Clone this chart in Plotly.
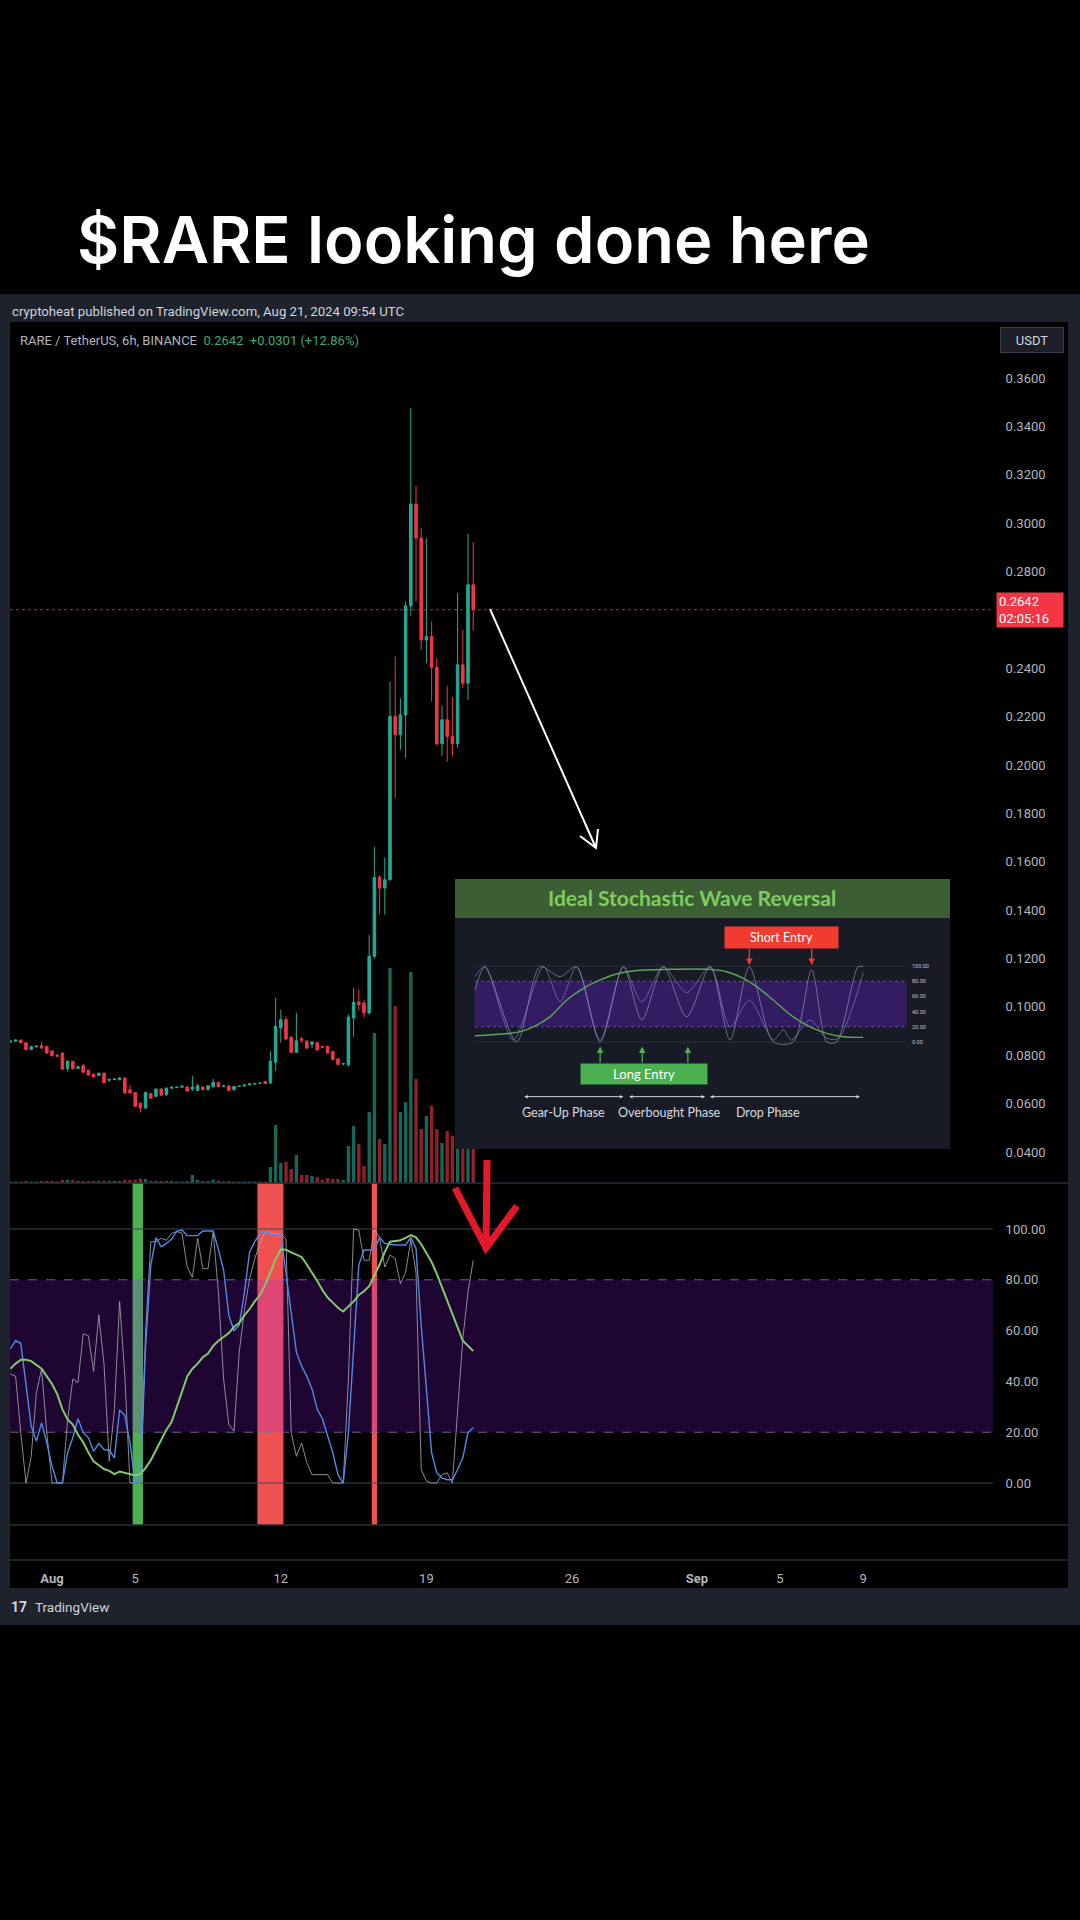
import pandas as pd
import plotly.graph_objects as go

W, H = 1080, 1920

# ---------------- data (6h candles, RARE/USDT) ----------------
BAR_START = "2024-07-30 00:00"
BAR_HOURS = 6

OPEN = [0.0855, 0.0858, 0.0863, 0.0852, 0.0824, 0.0835, 0.0840, 0.0836, 0.0818, 0.0800,
        0.0809, 0.0744, 0.0775, 0.0746, 0.0757, 0.0738, 0.0722, 0.0716, 0.0726, 0.0697,
        0.0700, 0.0699, 0.0706, 0.0657, 0.0646, 0.0602, 0.0582, 0.0641, 0.0630, 0.0660,
        0.0637, 0.0664, 0.0666, 0.0668, 0.0669, 0.0660, 0.0655, 0.0669, 0.0658, 0.0670,
        0.0688, 0.0671, 0.0673, 0.0657, 0.0671, 0.0673, 0.0678, 0.0681, 0.0683, 0.0691,
        0.0685, 0.0771, 0.0913, 0.0947, 0.0874, 0.0812, 0.0868, 0.0858, 0.0845, 0.0852,
        0.0836, 0.0837, 0.0816, 0.0785, 0.0764, 0.0761, 0.0954, 0.1020, 0.1016, 0.0975,
        0.1209, 0.1535, 0.1491, 0.1526, 0.2201, 0.2125, 0.2207, 0.2658, 0.3079, 0.2938,
        0.2517, 0.2531, 0.2404, 0.2088, 0.2187, 0.2118, 0.2088, 0.2414, 0.2338, 0.2745]
HIGH = [0.0862, 0.0866, 0.0864, 0.0854, 0.0840, 0.0840, 0.0857, 0.0838, 0.0822, 0.0806,
        0.0812, 0.0780, 0.0778, 0.0758, 0.0764, 0.0740, 0.0724, 0.0728, 0.0728, 0.0704,
        0.0705, 0.0710, 0.0708, 0.0678, 0.0648, 0.0605, 0.0650, 0.0645, 0.0663, 0.0664,
        0.0667, 0.0670, 0.0672, 0.0675, 0.0672, 0.0715, 0.0682, 0.0672, 0.0677, 0.0702,
        0.0690, 0.0675, 0.0675, 0.0673, 0.0674, 0.0678, 0.0683, 0.0685, 0.0687, 0.0693,
        0.0818, 0.1037, 0.0988, 0.0961, 0.0880, 0.0975, 0.0876, 0.0864, 0.0858, 0.0855,
        0.0840, 0.0840, 0.0818, 0.0787, 0.0768, 0.0968, 0.1078, 0.1072, 0.1030, 0.1298,
        0.1663, 0.1545, 0.1618, 0.2345, 0.2448, 0.2276, 0.2676, 0.3475, 0.3154, 0.2979,
        0.2938, 0.2593, 0.2441, 0.2245, 0.2327, 0.2281, 0.2711, 0.2559, 0.2955, 0.2921]
LOW = [0.0852, 0.0856, 0.0850, 0.0820, 0.0820, 0.0832, 0.0826, 0.0806, 0.0795, 0.0793,
       0.0738, 0.0733, 0.0741, 0.0742, 0.0728, 0.0716, 0.0708, 0.0714, 0.0684, 0.0690,
       0.0697, 0.0696, 0.0641, 0.0642, 0.0586, 0.0564, 0.0578, 0.0620, 0.0628, 0.0632,
       0.0632, 0.0662, 0.0664, 0.0666, 0.0650, 0.0652, 0.0652, 0.0655, 0.0656, 0.0668,
       0.0668, 0.0668, 0.0652, 0.0655, 0.0669, 0.0671, 0.0676, 0.0679, 0.0681, 0.0681,
       0.0683, 0.0734, 0.0852, 0.0862, 0.0808, 0.0808, 0.0852, 0.0826, 0.0830, 0.0820,
       0.0830, 0.0806, 0.0780, 0.0760, 0.0758, 0.0752, 0.0875, 0.0985, 0.0955, 0.0968,
       0.1200, 0.1381, 0.1381, 0.1520, 0.1864, 0.2063, 0.2029, 0.2617, 0.2676, 0.2476,
       0.2421, 0.2262, 0.2080, 0.2038, 0.2014, 0.2035, 0.2070, 0.2318, 0.2269, 0.2556]
CLOSE = [0.0858, 0.0863, 0.0852, 0.0823, 0.0835, 0.0838, 0.0830, 0.0809, 0.0798, 0.0797,
         0.0743, 0.0775, 0.0744, 0.0752, 0.0730, 0.0718, 0.0710, 0.0726, 0.0686, 0.0700,
         0.0702, 0.0706, 0.0644, 0.0644, 0.0589, 0.0582, 0.0646, 0.0622, 0.0660, 0.0635,
         0.0664, 0.0668, 0.0668, 0.0672, 0.0652, 0.0669, 0.0674, 0.0658, 0.0674, 0.0688,
         0.0670, 0.0673, 0.0654, 0.0671, 0.0672, 0.0677, 0.0682, 0.0683, 0.0685, 0.0683,
         0.0775, 0.0920, 0.0947, 0.0867, 0.0812, 0.0860, 0.0862, 0.0830, 0.0855, 0.0822,
         0.0834, 0.0809, 0.0782, 0.0762, 0.0766, 0.0957, 0.1019, 0.1010, 0.0975, 0.1209,
         0.1535, 0.1491, 0.1526, 0.2201, 0.2125, 0.2207, 0.2658, 0.3079, 0.2938, 0.2517,
         0.2531, 0.2404, 0.2088, 0.2187, 0.2118, 0.2088, 0.2414, 0.2338, 0.2745, 0.2642]
VOLUME_M = [0.15, 0.15, 0.15, 0.2, 0.15, 0.15, 0.2, 0.2, 0.2, 0.15,
            0.3, 0.33, 0.3, 0.2, 0.2, 0.2, 0.2, 0.2, 0.25, 0.2,
            0.2, 0.2, 0.33, 0.3, 0.33, 0.43, 0.4, 0.23, 0.2, 0.2,
            0.2, 0.2, 0.15, 0.15, 0.2, 0.8, 0.3, 0.2, 0.2, 0.33,
            0.25, 0.15, 0.2, 0.15, 0.15, 0.15, 0.15, 0.15, 0.15, 0.15,
            1.6, 5.8, 2.0, 2.1, 1.4, 2.8, 0.8, 0.8, 0.7, 0.6,
            0.3, 0.5, 0.4, 0.4, 0.3, 3.7, 5.7, 3.9, 1.7, 7.1,
            15.0, 4.4, 3.9, 21.5, 17.7, 7.1, 8.1, 21.1, 10.4, 5.4,
            6.7, 7.7, 5.4, 4.0, 5.2, 4.7, 5.0, 4.5, 6.0, 4.0]

# stochastic panel (blue %K, thin grey fast line, green slow line)
STOCH_K = [52.8, 56.0, 55.0, 38.0, 22.4, 16.5, 23.7, 15.8, 6.6, 0.0,
           0.0, 11.9, 17.8, 25.3, 19.8, 17.8, 12.5, 15.6, 13.2, 12.9,
           9.9, 28.8, 26.6, 15.8, 0.0, 0.7, 54.0, 85.8, 96.6, 93.0,
           94.3, 96.0, 99.2, 99.6, 97.4, 97.4, 97.4, 99.2, 99.2, 99.2,
           92.0, 83.8, 66.0, 60.0, 62.0, 75.0, 91.0, 95.0, 98.3, 99.0,
           98.0, 97.5, 98.0, 83.0, 67.0, 51.5, 46.0, 42.0, 37.0, 29.0,
           25.3, 18.5, 11.9, 3.3, 0.0, 19.8, 52.8, 85.8, 91.7, 91.7,
           92.0, 96.6, 94.3, 94.0, 93.7, 93.7, 93.7, 96.6, 92.3, 62.0,
           38.3, 11.9, 4.0, 2.0, 1.3, 1.3, 5.3, 9.9, 19.8, 21.8]
STOCH_FAST = [42.9, 42.0, 19.8, 0.0, 10.5, 35.6, 44.8, 19.8, 0.0, 0.0,
              0.0, 25.0, 40.9, 39.6, 58.7, 58.0, 44.0, 66.2, 46.8, 8.6,
              29.0, 71.5, 42.2, 0.0, 0.0, 0.0, 59.4, 95.0, 95.0, 96.3,
              95.6, 98.3, 99.0, 98.3, 85.0, 81.0, 96.3, 84.4, 84.4, 99.0,
              75.0, 40.9, 23.0, 20.4, 51.5, 68.0, 80.5, 88.4, 94.3, 99.0,
              98.5, 98.0, 98.0, 96.0, 19.8, 10.5, 15.8, 8.0, 3.3, 3.3,
              3.3, 3.3, 0.0, 0.0, 0.0, 40.9, 100.0, 99.6, 87.7, 87.7,
              100.0, 96.3, 85.0, 89.7, 88.4, 78.5, 83.0, 95.6, 83.0, 5.3,
              0.7, 0.0, 0.0, 3.3, 4.0, 0.0, 27.7, 56.7, 75.2, 87.7]
STOCH_SLOW = [45.0, 47.0, 48.5, 48.5, 48.0, 46.5, 45.0, 42.0, 39.0, 35.0,
              29.0, 25.0, 23.0, 19.0, 16.0, 12.0, 8.5, 7.0, 5.5, 4.8,
              3.5, 4.5, 4.0, 3.3, 3.0, 3.5, 6.0, 9.0, 13.0, 17.0,
              21.0, 24.0, 30.0, 36.0, 42.0, 45.0, 47.0, 49.5, 51.0, 54.0,
              56.0, 57.5, 59.0, 61.5, 63.0, 66.0, 68.5, 71.5, 74.0, 78.0,
              83.0, 88.0, 92.0, 91.8, 90.8, 90.0, 89.0, 86.0, 83.0, 79.5,
              76.0, 73.0, 71.0, 69.0, 67.5, 69.5, 71.5, 74.0, 75.5, 77.5,
              81.5, 86.0, 91.0, 95.0, 95.3, 95.6, 96.5, 97.6, 96.7, 94.0,
              90.5, 87.0, 82.3, 77.2, 72.0, 66.7, 61.3, 56.0, 54.0, 52.0]

# highlighted signal candles (first/last bar of each zone)
SIGNAL_FIRST = ["2024-08-05 00:00", "2024-08-11 00:00", "2024-08-16 12:00"]
SIGNAL_LAST = ["2024-08-05 06:00", "2024-08-12 00:00", "2024-08-16 12:00"]
SIGNAL_SIDE = ["long", "short", "short"]

LAST_PRICE = 0.2642
PRICE_TICKS = [0.04, 0.06, 0.08, 0.10, 0.12, 0.14, 0.16, 0.18, 0.20, 0.22,
               0.24, 0.28, 0.30, 0.32, 0.34, 0.36]
OSC_TICKS = [0, 20, 40, 60, 80, 100]
OSC_BAND = [20, 80]
OSC_LEVELS = [0, 100]
DATE_TICKS = ["2024-08-01", "2024-08-05", "2024-08-12", "2024-08-19",
              "2024-08-26", "2024-09-01", "2024-09-05", "2024-09-09"]
DATE_LABELS = ["<b>Aug</b>", "5", "12", "19", "26", "<b>Sep</b>", "5", "9"]

# ---------------- inset illustration data ("Ideal Stochastic Wave Reversal") ----------------
INSET_BLUE_X = [0, 2.3, 8.9, 15.9, 19.8, 23.6, 29.1, 34.5, 38.8, 43.8, 49.2, 54.7, 59.3,
                63.8, 69.4, 71.7, 73.6, 77.9, 81.8, 84.5, 90.3]
INSET_BLUE_Y = [86, 99, 2.6, 99, 53, 99, 2.6, 99, 53, 99, 65, 99, 20,
                55, 2.6, 16, 2.6, 29, 5, 5, 91]
INSET_GRAY_X = [0, 2.3, 9.7, 15.1, 19.8, 23.6, 29.1, 34.5, 38.8, 43.8, 49.2, 54.7, 59.3,
                63.8, 69.4, 74.0, 78.3, 81.8, 84.1, 89.1, 90.3]
INSET_GRAY_Y = [68, 99, 0, 99, 86, 99, 0, 99, 29, 99, 33, 99, 2.6,
                99, 0, 0, 95, 0, 0, 99, 99]
INSET_GREEN_X = [0, 10.5, 14.3, 17.4, 21.3, 25.2, 29.1, 32.9, 37.6, 44.6, 54.7, 58.5,
                 62.4, 65.5, 69.4, 74.0, 77.9, 81.8, 85.7, 90.3]
INSET_GREEN_Y = [8.3, 13.6, 22, 33, 55, 70.6, 81.6, 89.5, 94, 95.6, 95.6, 92.5,
                 83.8, 72.8, 55, 33, 20, 11.4, 7, 6.1]
INSET_BAR_X0 = [10.3, 34.5, 42.2, 52.7]
INSET_BAR_X1 = [11.4, 35.4, 44.2, 54.8]
INSET_BAR_SIDE = ["long", "short", "short", "short"]
INSET_LONG_ARROWS = [29.1, 38.9, 49.5]
INSET_SHORT_ARROWS = [63.8, 78.3]
INSET_PHASE_X0 = [11.1, 35.5, 54.3]
INSET_PHASE_X1 = [34.5, 53.5, 89.5]
INSET_PHASE_NAMES = ["Gear-Up Phase", "Overbought Phase", "Drop Phase"]
INSET_PHASE_LABEL_X = [20.5, 45.2, 68.2]
INSET_TICKS = [0, 20, 40, 60, 80, 100]

# ---------------- styling ----------------
UP, DOWN = "#22ab94", "#f23645"
VOL_UP, VOL_DOWN = "rgba(34,171,148,0.6)", "rgba(242,54,69,0.6)"
SIG_LONG, SIG_SHORT = "#4caf50", "#f05252"
AXIS_TXT = "#b2b5be"
SEP = "#2a2e39"
FONT = "Roboto"


def PX(x):
    return x / W


def PY(y):
    return 1 - y / H


X_RANGE = ["2024-07-29 23:32", "2024-09-15 05:45"]
PRICE_RANGE = [0.02719, 0.38314]
VOL_RANGE = [0, 86.1]
OSC_RANGE = [-30.3, 118.1]
OSC_PANE_BOTTOM = -16.5
INSET_XR = [-4.651, 110.465]
INSET_YR = [-140.79, 214.47]
INSET_HEADER = 163.2

t = pd.date_range(BAR_START, periods=len(OPEN), freq=f"{BAR_HOURS}h")
bar_ms = BAR_HOURS * 3600 * 1000
up_flags = [c >= o for o, c in zip(OPEN, CLOSE)]

fig = go.Figure()

# volume (behind candles)
fig.add_trace(go.Bar(x=t, y=VOLUME_M, width=0.65 * bar_ms,
                     marker=dict(color=[VOL_UP if u else VOL_DOWN for u in up_flags], line=dict(width=0)),
                     xaxis="x", yaxis="y", hoverinfo="skip"))
# candles
fig.add_trace(go.Candlestick(x=t, open=OPEN, high=HIGH, low=LOW, close=CLOSE,
                             increasing=dict(line=dict(color=UP, width=1), fillcolor=UP),
                             decreasing=dict(line=dict(color=DOWN, width=1), fillcolor=DOWN),
                             whiskerwidth=0, xaxis="x", yaxis="y2", hoverinfo="skip"))

# stochastic signal zones
sf = pd.to_datetime(SIGNAL_FIRST) - pd.Timedelta(hours=BAR_HOURS / 2)
sl = pd.to_datetime(SIGNAL_LAST) + pd.Timedelta(hours=BAR_HOURS / 2)
mids = [a + (b - a) / 2 for a, b in zip(sf, sl)]
widths = [(b - a).total_seconds() * 1000 for a, b in zip(sf, sl)]
fig.add_trace(go.Bar(x=mids, y=[OSC_RANGE[1] - OSC_PANE_BOTTOM] * len(mids), base=OSC_PANE_BOTTOM,
                     width=widths,
                     marker=dict(color=[SIG_LONG if s == "long" else SIG_SHORT for s in SIGNAL_SIDE],
                                 line=dict(width=0)),
                     xaxis="x2", yaxis="y3", hoverinfo="skip"))
# band 20-80 (translucent purple on top of the zones)
fig.add_trace(go.Scatter(x=X_RANGE, y=[OSC_BAND[0]] * 2, mode="lines",
                         line=dict(color="rgba(130,115,150,0.85)", width=1, dash="dash"),
                         xaxis="x2", yaxis="y3", hoverinfo="skip"))
fig.add_trace(go.Scatter(x=X_RANGE, y=[OSC_BAND[1]] * 2, mode="lines", fill="tonexty",
                         fillcolor="rgba(150,25,250,0.2)",
                         line=dict(color="rgba(130,115,150,0.85)", width=1, dash="dash"),
                         xaxis="x2", yaxis="y3", hoverinfo="skip"))
for lv in OSC_LEVELS:
    fig.add_trace(go.Scatter(x=X_RANGE, y=[lv, lv], mode="lines",
                             line=dict(color="#434651", width=1),
                             xaxis="x2", yaxis="y3", hoverinfo="skip"))
fig.add_trace(go.Scatter(x=t, y=STOCH_FAST, mode="lines", line=dict(color="rgba(170,172,182,0.8)", width=1),
                         xaxis="x2", yaxis="y3", hoverinfo="skip"))
fig.add_trace(go.Scatter(x=t, y=STOCH_K, mode="lines", line=dict(color="#4f8ae6", width=1.4),
                         xaxis="x2", yaxis="y3", hoverinfo="skip"))
fig.add_trace(go.Scatter(x=t, y=STOCH_SLOW, mode="lines", line=dict(color="#84c96a", width=2),
                         xaxis="x2", yaxis="y3", hoverinfo="skip"))

# ---------------- inset illustration ----------------
ix0, ix1 = INSET_XR
iy0, iy1 = INSET_YR
fig.add_trace(go.Scatter(x=[ix0, ix1, ix1, ix0, ix0], y=[iy0, iy0, INSET_HEADER, INSET_HEADER, iy0],
                         mode="lines", fill="toself", fillcolor="#181b25", line=dict(width=0),
                         xaxis="x4", yaxis="y4", hoverinfo="skip"))
fig.add_trace(go.Scatter(x=[ix0, ix1, ix1, ix0, ix0], y=[INSET_HEADER, INSET_HEADER, iy1, iy1, INSET_HEADER],
                         mode="lines", fill="toself", fillcolor="#3b5e35", line=dict(width=0),
                         xaxis="x4", yaxis="y4", hoverinfo="skip"))
fig.add_trace(go.Scatter(x=[0, 100.4], y=[OSC_BAND[0]] * 2, mode="lines",
                         line=dict(color="#6b5b9c", width=0.8, dash="dot"),
                         xaxis="x4", yaxis="y4", hoverinfo="skip"))
fig.add_trace(go.Scatter(x=[0, 100.4], y=[OSC_BAND[1]] * 2, mode="lines", fill="tonexty",
                         fillcolor="#331c62", line=dict(color="#6b5b9c", width=0.8, dash="dot"),
                         xaxis="x4", yaxis="y4", hoverinfo="skip"))
for lv in OSC_LEVELS:
    fig.add_trace(go.Scatter(x=[0, 100.4], y=[lv, lv], mode="lines",
                             line=dict(color="#2c303c", width=1),
                             xaxis="x4", yaxis="y4", hoverinfo="skip"))
fig.add_trace(go.Scatter(x=INSET_GRAY_X, y=INSET_GRAY_Y, mode="lines",
                         line=dict(color="rgba(190,194,210,0.55)", width=0.9, shape="spline", smoothing=0.8),
                         xaxis="x4", yaxis="y4", hoverinfo="skip"))
fig.add_trace(go.Scatter(x=INSET_BLUE_X, y=INSET_BLUE_Y, mode="lines",
                         line=dict(color="rgba(125,135,220,0.7)", width=0.9, shape="spline", smoothing=0.8),
                         xaxis="x4", yaxis="y4", hoverinfo="skip"))
fig.add_trace(go.Scatter(x=INSET_GREEN_X, y=INSET_GREEN_Y, mode="lines",
                         line=dict(color="#5fa35c", width=1.4, shape="spline"),
                         xaxis="x4", yaxis="y4", hoverinfo="skip"))
bar_lo, bar_hi = -12.7, 114.5
fig.add_trace(go.Bar(x=[(a + b) / 2 for a, b in zip(INSET_BAR_X0, INSET_BAR_X1)],
                     y=[bar_hi - bar_lo] * len(INSET_BAR_X0), base=bar_lo,
                     width=[b - a for a, b in zip(INSET_BAR_X0, INSET_BAR_X1)],
                     marker=dict(color=["#4caf50" if s == "long" else "#ef4d4d" for s in INSET_BAR_SIDE],
                                 line=dict(width=0)),
                     xaxis="x4", yaxis="y4", hoverinfo="skip"))

# ---------------- layout ----------------
xdom = [PX(10), PX(993)]
fig.update_layout(
    width=W, height=H, margin=dict(l=0, r=0, t=0, b=0), autosize=False,
    paper_bgcolor="#000000", plot_bgcolor="#000000", showlegend=False, hovermode=False,
    font=dict(family=FONT, color=AXIS_TXT), barmode="overlay",
    xaxis=dict(domain=xdom, range=X_RANGE, type="date", anchor="y", showticklabels=False,
               showgrid=False, zeroline=False, showline=False, ticks="",
               rangeslider=dict(visible=False)),
    yaxis=dict(domain=[PY(1183), PY(322)], range=VOL_RANGE, visible=False, anchor="x"),
    yaxis2=dict(overlaying="y", anchor="x", side="right", range=PRICE_RANGE, tickvals=PRICE_TICKS,
                tickformat=".4f", showgrid=False, zeroline=False, showline=False,
                ticks="outside", ticklen=9, tickcolor="rgba(0,0,0,0)",
                tickfont=dict(family=FONT, size=13, color=AXIS_TXT)),
    xaxis2=dict(domain=xdom, matches="x", anchor="y3", type="date", tickvals=DATE_TICKS,
                ticktext=DATE_LABELS, showgrid=False, zeroline=False, showline=False,
                ticks="outside", ticklen=6, tickcolor="rgba(0,0,0,0)",
                tickfont=dict(family=FONT, size=13, color=AXIS_TXT)),
    yaxis3=dict(domain=[PY(1560), PY(1183)], range=OSC_RANGE, anchor="x2", side="right",
                tickvals=OSC_TICKS, tickformat=".2f", showgrid=False, zeroline=False, showline=False,
                ticks="outside", ticklen=9, tickcolor="rgba(0,0,0,0)",
                tickfont=dict(family=FONT, size=13, color=AXIS_TXT)),
    xaxis4=dict(domain=[PX(455), PX(950)], range=INSET_XR, anchor="y4", visible=False),
    yaxis4=dict(domain=[PY(1149), PY(879)], range=INSET_YR, anchor="x4", visible=False),
)


def path(points_list):
    segs = []
    for pts in points_list:
        segs.append("M" + " L".join(f"{PX(x):.5f},{PY(y):.5f}" for x, y in pts))
    return " ".join(segs)


shapes = [
    dict(type="rect", xref="paper", yref="paper", x0=0, x1=1, y0=PY(1625), y1=PY(294),
         fillcolor="#1e222d", line=dict(width=0), layer="below"),
    dict(type="rect", xref="paper", yref="paper", x0=PX(10), x1=PX(1068), y0=PY(1588), y1=PY(322),
         fillcolor="#000000", line=dict(width=0), layer="below"),
    dict(type="line", xref="paper", yref="y2", x0=PX(10), x1=PX(993), y0=LAST_PRICE, y1=LAST_PRICE,
         line=dict(color="rgba(242,54,69,0.8)", width=1, dash="dot"), layer="below"),
]
for yy in (1183, 1525, 1560):
    shapes.append(dict(type="line", xref="paper", yref="paper", x0=PX(10), x1=PX(1068),
                       y0=PY(yy), y1=PY(yy), line=dict(color=SEP, width=1.5), layer="above"))
# hand drawn white arrow
shapes.append(dict(type="path", xref="paper", yref="paper", layer="above",
                   path=path([[(490, 609), (596, 848)], [(580, 836), (596, 848), (598, 829)]]),
                   line=dict(color="#ffffff", width=2)))
# hand drawn red arrow
shapes.append(dict(type="path", xref="paper", yref="paper", layer="above",
                   path=path([[(487, 1160), (486, 1250)], [(455, 1188), (486, 1248), (517, 1206)]]),
                   line=dict(color="#e3192b", width=7)))

ann = [
    dict(text="$RARE looking done here", xref="paper", yref="paper", x=PX(75), y=PY(239),
         xanchor="left", yanchor="middle", showarrow=False,
         font=dict(family="Inter", size=65, color="#ffffff", weight=600)),
    dict(text="cryptoheat published on TradingView.com, Aug 21, 2024 09:54 UTC", xref="paper", yref="paper",
         x=PX(10), y=PY(312), xanchor="left", yanchor="middle", showarrow=False,
         font=dict(family=FONT, size=13.2, color="#d1d4dc")),
    dict(text="RARE / TetherUS, 6h, BINANCE  <span style='color:#3fa877'>0.2642  +0.0301 (+12.86%)</span>",
         xref="paper", yref="paper", x=PX(18), y=PY(340), xanchor="left", yanchor="middle", showarrow=False,
         font=dict(family=FONT, size=13, color="#b2b5be")),
    dict(text="USDT", xref="paper", yref="paper", x=PX(1032), y=PY(340), xanchor="center", yanchor="middle",
         showarrow=False, width=60, height=22, bgcolor="#1c1f29", bordercolor="#3a3e4a", borderwidth=1,
         borderpad=1, font=dict(family=FONT, size=13, color="#d1d4dc")),
    dict(text="0.2642<br>02:05:16", xref="paper", yref="y2", x=PX(996), y=LAST_PRICE, xanchor="left",
         yanchor="middle", showarrow=False, align="left", width=62, height=30, bgcolor="#f23645",
         borderpad=2, font=dict(family=FONT, size=13, color="#ffffff")),
    dict(text="<b>17</b>", xref="paper", yref="paper", x=PX(9), y=PY(1607), xanchor="left", yanchor="middle",
         showarrow=False, font=dict(family=FONT, size=14, color="#d1d4dc")),
    dict(text="TradingView", xref="paper", yref="paper", x=PX(33), y=PY(1607), xanchor="left",
         yanchor="middle", showarrow=False, font=dict(family=FONT, size=13.5, color="#d1d4dc")),
    # inset texts
    dict(text="<b>Ideal Stochastic Wave Reversal</b>", xref="x4", yref="y4", x=50.5, y=190.5,
         showarrow=False, font=dict(family="Lato", size=21, color="#80cc5f")),
    dict(text="Long Entry", xref="x4", yref="y4", x=39.35, y=-42.3, showarrow=False, width=124, height=18,
         bgcolor="#4caf50", font=dict(family="Lato", size=13, color="#ffffff")),
    dict(text="Short Entry", xref="x4", yref="y4", x=71.3, y=137.1, showarrow=False, width=111, height=19,
         bgcolor="#ef3b30", font=dict(family="Lato", size=12.5, color="#ffffff")),
]
for xv in INSET_LONG_ARROWS:
    ann.append(dict(text="", xref="x4", yref="y4", x=xv, y=-6, ax=xv, ay=-29, axref="x4", ayref="y4",
                    showarrow=True, arrowhead=2, arrowsize=1, arrowwidth=1.3, arrowcolor="#4caf50"))
for xv in INSET_SHORT_ARROWS:
    ann.append(dict(text="", xref="x4", yref="y4", x=xv, y=101.3, ax=xv, ay=124.6, axref="x4", ayref="y4",
                    showarrow=True, arrowhead=2, arrowsize=1, arrowwidth=1.3, arrowcolor="#ef3b30"))
for a, b in zip(INSET_PHASE_X0, INSET_PHASE_X1):
    ann.append(dict(text="", xref="x4", yref="y4", x=b, y=-71.9, ax=a, ay=-71.9, axref="x4", ayref="y4",
                    showarrow=True, arrowhead=2, arrowside="end+start", arrowsize=0.7, arrowwidth=1,
                    arrowcolor="#cfd2d8"))
for name, xv in zip(INSET_PHASE_NAMES, INSET_PHASE_LABEL_X):
    ann.append(dict(text=name, xref="x4", yref="y4", x=xv, y=-93, showarrow=False,
                    font=dict(family="Lato", size=12.5, color="#d9dbe0")))
for tv in INSET_TICKS:
    ann.append(dict(text=f"{tv:.2f}", xref="x4", yref="y4", x=101.2, y=tv, xanchor="left", showarrow=False,
                    font=dict(family=FONT, size=5.5, color="#c0c3cc")))

fig.update_layout(shapes=shapes, annotations=ann)
fig.write_html("out.html", config={"displayModeBar": False},
               post_script="document.body.style.margin='0';document.body.style.padding='0';"
                           "document.body.style.background='#000';"
                           "document.documentElement.style.background='#000';")
